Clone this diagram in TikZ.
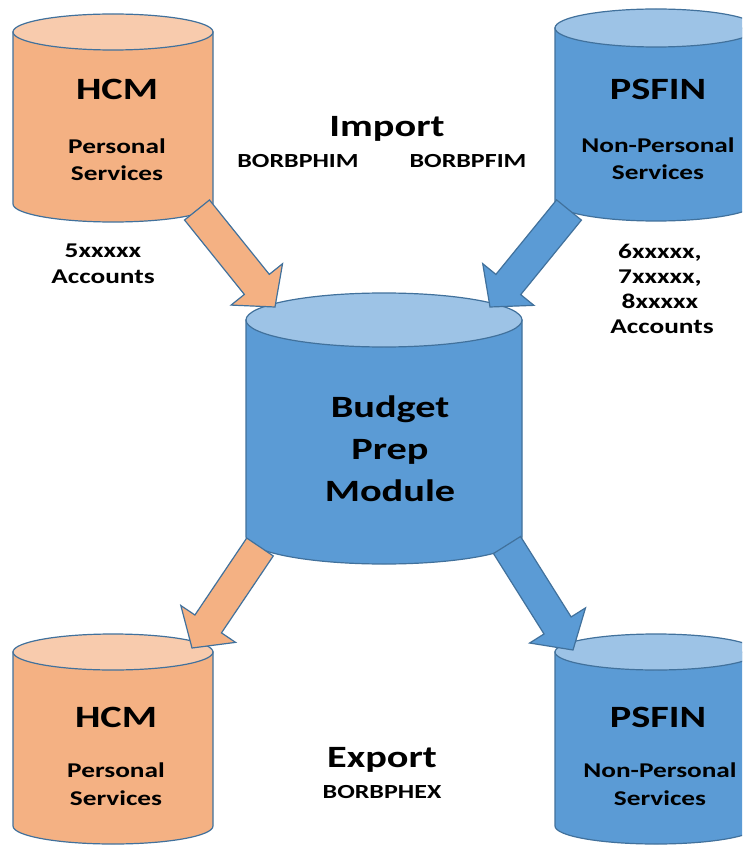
\documentclass[tikz,border=0pt]{standalone}
\usepackage{fontspec}
\setmainfont{Carlito}[FakeStretch=1.3]
\usetikzlibrary{calc}
\definecolor{bord}{HTML}{41719C}
\definecolor{orbody}{HTML}{F4B183}
\definecolor{ortop}{HTML}{F8CBAD}
\definecolor{blbody}{HTML}{5B9BD5}
\definecolor{bltop}{HTML}{9DC3E6}
\tikzset{
  big/.style={anchor=base, inner sep=0pt, font=\fontsize{31}{37}\selectfont\bfseries},
  small/.style={anchor=base, inner sep=0pt, font=\fontsize{21}{25}\selectfont\bfseries},
  tiny/.style={anchor=base, inner sep=0pt, font=\fontsize{20}{24}\selectfont\bfseries},
  outline/.style={draw=bord, line width=1.2pt, line join=miter},
  orarrow/.style={outline, fill=orbody},
  blarrow/.style={outline, fill=blbody},
}
% cx, ytop, ybot, rx, ry, body colour, top colour
\newcommand\drawcyl[7]{%
  \filldraw[outline, fill=#6] (#1-#4,#2) -- (#1-#4,#3)
    arc[start angle=180, end angle=360, x radius=#4pt, y radius=#5pt]
    -- (#1+#4,#2) -- cycle;
  \filldraw[outline, fill=#7] (#1,#2) ellipse [x radius=#4pt, y radius=#5pt];
}
% start, tip, style
\newcommand\blockarrow[3]{%
  \coordinate (#1hb) at ($(#2)!29pt!(#1)$);
  \filldraw[#3] ($(#1)!16pt!90:(#2)$) -- ($(#1hb)!16pt!90:(#2)$)
    -- ($(#1hb)!33pt!90:(#2)$) -- (#2) -- ($(#1hb)!33pt!-90:(#2)$)
    -- ($(#1hb)!16pt!-90:(#2)$) -- ($(#1)!16pt!-90:(#2)$) -- cycle;
}
\begin{document}
\begin{tikzpicture}[x=1pt, y=-1pt]
\useasboundingbox (0,0) rectangle (742,850);
\clip (0,0) rectangle (742,850);
\fill[white] (0,0) rectangle (742,850);

% cylinders
\drawcyl{113}{32}{204}{100}{18}{orbody}{ortop}
\drawcyl{656}{28}{202}{101}{19}{blbody}{bltop}
\drawcyl{384}{320}{537}{138}{27}{blbody}{bltop}
\drawcyl{113}{652}{826}{100}{18}{orbody}{ortop}
\drawcyl{656}{652}{826}{101}{18}{blbody}{bltop}

% arrow end points
\coordinate (a1s) at (197,210); \coordinate (a1t) at (275,307);
\coordinate (a2s) at (569,210); \coordinate (a2t) at (490,307);
\coordinate (a3s) at (260,547); \coordinate (a3t) at (192,648);
\coordinate (a4s) at (507,545); \coordinate (a4t) at (573,650);
\blockarrow{a1s}{a1t}{orarrow}
\blockarrow{a2s}{a2t}{blarrow}
\blockarrow{a3s}{a3t}{orarrow}
\blockarrow{a4s}{a4t}{blarrow}

% top HCM
\node[big]   (hcm1)  at (117,100) {HCM};
\node[small] (hcm1a) at (117,154) {Personal};
\node[small] (hcm1b) at (117,181) {Services};
\node[small] (acc5a) at (103,257) {5xxxxx};
\node[small] (acc5b) at (103,283) {Accounts};

% import
\node[big]  (imp)  at (387,137) {Import};
\node[tiny] (phim) at (298,168) {BORBPHIM};
\node[tiny] (pfim) at (468,168) {BORBPFIM};

% top PSFIN
\node[big]   (fin1)  at (658,100) {PSFIN};
\node[small] (fin1a) at (658,153) {Non-Personal};
\node[small] (fin1b) at (658,180) {Services};
\node[small] (acc6) at (660,258) {6xxxxx,};
\node[small] (acc7) at (660,283) {7xxxxx,};
\node[small] (acc8) at (660,308) {8xxxxx};
\node[small] (acc9) at (662,333) {Accounts};

% centre
\node[big] (bpa) at (390,417) {Budget};
\node[big] (bpb) at (390,459) {Prep};
\node[big] (bpc) at (390,501) {Module};

% bottom
\node[big]   (hcm2)  at (116,727) {HCM};
\node[small] (hcm2a) at (116,777) {Personal};
\node[small] (hcm2b) at (116,805) {Services};
\node[big]  (exp)  at (382,767) {Export};
\node[tiny] (phex) at (382,798) {BORBPHEX};
\node[big]   (fin2)  at (658,727) {PSFIN};
\node[small] (fin2a) at (660,777) {Non-Personal};
\node[small] (fin2b) at (660,805) {Services};
\end{tikzpicture}
\end{document}
